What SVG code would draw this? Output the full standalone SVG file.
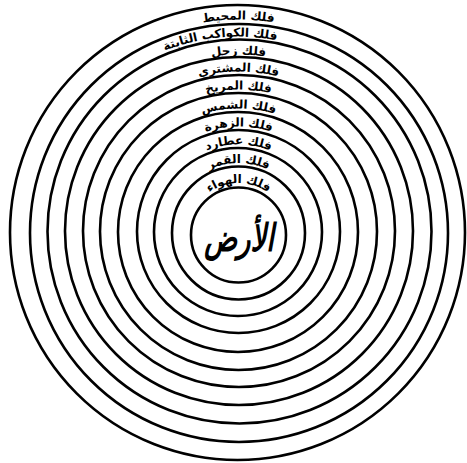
<svg xmlns="http://www.w3.org/2000/svg" xmlns:xlink="http://www.w3.org/1999/xlink" width="467" height="463" viewBox="0 0 467 463">
<style>
.orb{fill:none;stroke:#000;stroke-width:2.6}
.lbl{font-family:"DejaVu Sans",sans-serif;font-size:12px;font-weight:bold;fill:#000}
.earth{font-family:"DejaVu Sans",sans-serif;font-size:38px;font-weight:bold;font-style:italic;fill:#000}
</style>
<defs>
<path id="a1" d="M25,233 A213.5,213.5 0 0 1 452,233"/>
<path id="a2" d="M42,233 A196.5,196.5 0 0 1 435,233"/>
<path id="a3" d="M60,233 A178.5,178.5 0 0 1 417,233"/>
<path id="a4" d="M77,233 A161.5,161.5 0 0 1 400,233"/>
<path id="a5" d="M95,233 A143.5,143.5 0 0 1 382,233"/>
<path id="a6" d="M114,233 A124.5,124.5 0 0 1 363,233"/>
<path id="a7" d="M132,233 A106.5,106.5 0 0 1 345,233"/>
<path id="a8" d="M150,233 A88.5,88.5 0 0 1 327,233"/>
<path id="a9" d="M168.5,233 A70,70 0 0 1 308.5,233"/>
<path id="a10" d="M188.5,233 A50,50 0 0 1 288.5,233"/>
</defs>
<rect width="467" height="463" fill="#fff"/>
<g id="connectors">
<circle class="orb" cx="237.5" cy="232.5" r="227.5"/>
<circle class="orb" cx="239" cy="233" r="209"/>
<circle class="orb" cx="239.5" cy="231.5" r="192"/>
<circle class="orb" cx="239" cy="231" r="174"/>
<circle class="orb" cx="239" cy="231" r="156"/>
<circle class="orb" cx="238.5" cy="231.5" r="138.5"/>
<circle class="orb" cx="238" cy="232" r="120"/>
<circle class="orb" cx="238.5" cy="231.5" r="101.5"/>
<circle class="orb" cx="238" cy="232" r="84"/>
<circle class="orb" cx="238.5" cy="233" r="66.5"/>
</g>
<g id="n1"><text class="lbl"><textPath xlink:href="#a1" startOffset="50%" text-anchor="middle">فلك المحيط</textPath></text></g>
<g id="n2"><text class="lbl"><textPath xlink:href="#a2" startOffset="47%" text-anchor="middle">فلك الكواكب الثابتة</textPath></text></g>
<g id="n3"><text class="lbl"><textPath xlink:href="#a3" startOffset="50%" text-anchor="middle">فلك زحل</textPath></text></g>
<g id="n4"><text class="lbl"><textPath xlink:href="#a4" startOffset="50%" text-anchor="middle">فلك المشتري</textPath></text></g>
<g id="n5"><text class="lbl"><textPath xlink:href="#a5" startOffset="50%" text-anchor="middle">فلك المريخ</textPath></text></g>
<g id="n6"><text class="lbl"><textPath xlink:href="#a6" startOffset="50%" text-anchor="middle">فلك الشمس</textPath></text></g>
<g id="n7"><text class="lbl"><textPath xlink:href="#a7" startOffset="50%" text-anchor="middle">فلك الزهرة</textPath></text></g>
<g id="n8"><text class="lbl"><textPath xlink:href="#a8" startOffset="50%" text-anchor="middle">فلك عطارد</textPath></text></g>
<g id="n9"><text class="lbl"><textPath xlink:href="#a9" startOffset="50%" text-anchor="middle">فلك القمر</textPath></text></g>
<g id="n10"><text class="lbl"><textPath xlink:href="#a10" startOffset="50%" text-anchor="middle">فلك الهواء</textPath></text></g>
<g id="n11">
<circle class="orb" cx="238.5" cy="235" r="47.5"/>
<text class="earth" transform="translate(239,251) scale(0.72,1)" text-anchor="middle">الأرض</text>
</g>
</svg>
